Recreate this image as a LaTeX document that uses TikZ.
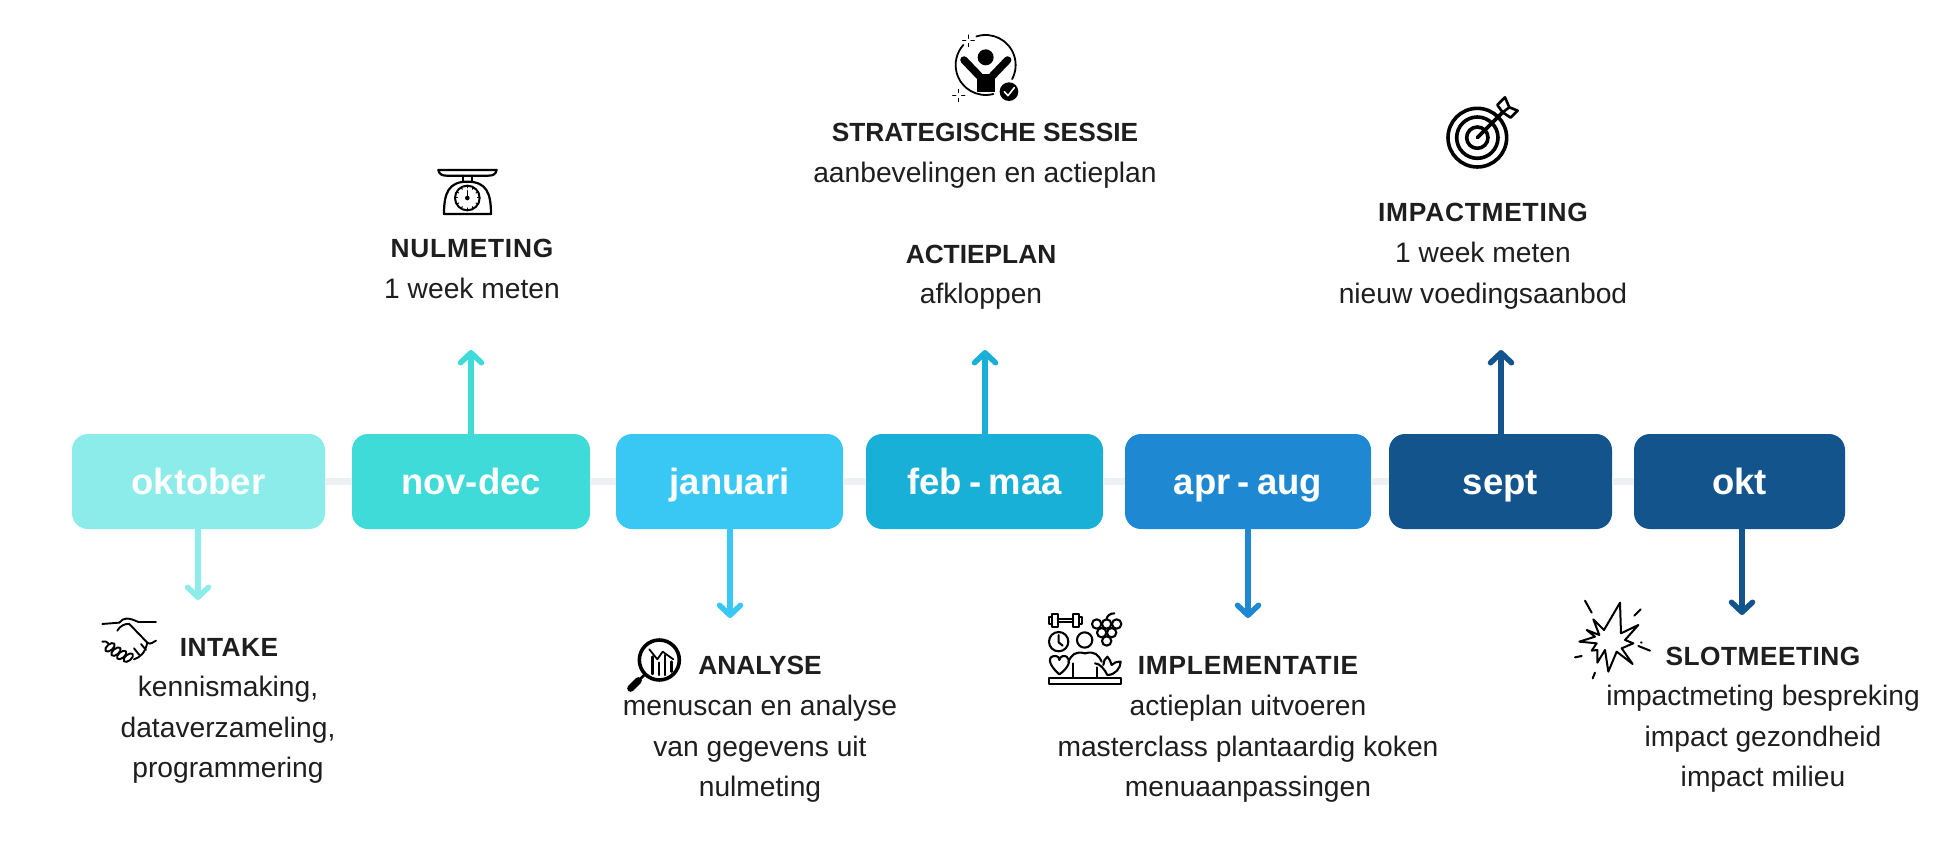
\documentclass[tikz,border=0pt]{standalone}
\usepackage{fontspec}
\setmainfont{Liberation Sans}
\usetikzlibrary{arrows.meta}
\definecolor{c1}{HTML}{8CECE9}
\definecolor{c2}{HTML}{3FDBD8}
\definecolor{c3}{HTML}{38C8F3}
\definecolor{c4}{HTML}{19B0D8}
\definecolor{c5}{HTML}{1E88D2}
\definecolor{c6}{HTML}{14548D}
\definecolor{ink}{HTML}{1E1E1E}
\definecolor{track}{HTML}{EEF1F3}
\newfontfamily\widehead[LetterSpace=3]{Liberation Sans}
\newfontfamily\midhead[LetterSpace=1.8]{Liberation Sans}
\tikzset{
  month/.style={rectangle,rounded corners=16pt,inner sep=0pt,minimum height=95pt,text=white,
    text height=27pt,text depth=2pt,font=\fontsize{36.5}{36.5}\selectfont\bfseries},
  head/.style={anchor=base,inner sep=0pt,text=ink,font=\fontsize{26.3}{26.3}\selectfont\bfseries},
  headw/.style={anchor=base,inner sep=0pt,text=ink,font=\fontsize{26.3}{26.3}\selectfont\widehead\bfseries},
  headm/.style={anchor=base,inner sep=0pt,text=ink,font=\fontsize{26.3}{26.3}\selectfont\midhead\bfseries},
  body/.style={anchor=base,inner sep=0pt,text=ink,font=\fontsize{28.2}{28.2}\selectfont},
  link/.style={track,line width=7pt},
  arr/.style={line width=5.5pt,-{Straight Barb[length=10pt,width=21pt,line cap=round,line join=round]}},
  ico/.style={x=.3333pt,y=-.3333pt,black,line cap=round,line join=round},
}
\begin{document}
\begin{tikzpicture}[x=1pt,y=-1pt]
\useasboundingbox (0,0) rectangle (1947,853);
\fill[white] (0,0) rectangle (1947,853);
% months
\node[month,fill=c1,minimum width=253pt] (b1) at (198.5,481.5) {oktober};
\node[month,fill=c2,minimum width=238pt] (b2) at (471,481.5) {nov-dec};
\node[month,fill=c3,minimum width=227pt] (b3) at (729.5,481.5) {januari};
\node[month,fill=c4,minimum width=237pt] (b4) at (984.5,481.5) {feb\hspace{.2em}-\hspace{.2em}maa};
\node[month,fill=c5,minimum width=246pt] (b5) at (1248,481.5) {apr\hspace{.2em}-\hspace{.2em}aug};
\node[month,fill=c6,minimum width=223pt] (b6) at (1500.5,481.5) {sept};
\node[month,fill=c6,minimum width=211pt] (b7) at (1739.5,481.5) {okt};
\foreach \a/\b in {b1/b2,b2/b3,b3/b4,b4/b5,b5/b6,b6/b7}{\draw[link] (\a.east) -- (\b.west);}
% arrow ends
\coordinate (t1) at (198,600);
\coordinate (t2) at (471,350);
\coordinate (t3) at (730,618);
\coordinate (t4) at (985,350);
\coordinate (t5) at (1248,618);
\coordinate (t6) at (1501,350);
\coordinate (t7) at (1742,615);
\draw[arr,c1] (b1.south -| t1) -- (t1);
\draw[arr,c2] (b2.north -| t2) -- (t2);
\draw[arr,c3] (b3.south -| t3) -- (t3);
\draw[arr,c4] (b4.north -| t4) -- (t4);
\draw[arr,c5] (b5.south -| t5) -- (t5);
\draw[arr,c6] (b6.north -| t6) -- (t6);
\draw[arr,c6] (b7.south -| t7) -- (t7);
% texts
\node[headm] (h1) at (229,656.5) {INTAKE};
\node[body] (l11) at (228,696) {kennismaking,};
\node[body] (l12) at (228,737) {dataverzameling,};
\node[body] (l13) at (228,777) {programmering};
\node[headw] (h2) at (472,257.5) {NULMETING};
\node[body] (l21) at (472,298.5) {1 week meten};
\node[head] (h3) at (760,674) {ANALYSE};
\node[body] (l31) at (760,715) {menuscan en analyse};
\node[body] (l32) at (760,756) {van gegevens uit};
\node[body] (l33) at (760,796) {nulmeting};
\node[head] (h4) at (985,142) {STRATEGISCHE SESSIE};
\node[body] (l41) at (985,183) {aanbevelingen en actieplan};
\node[head] (h5) at (981,263) {ACTIEPLAN};
\node[body] (l51) at (981,303.5) {afkloppen};
\node[headw] (h6) at (1483,222) {IMPACTMETING};
\node[body] (l61) at (1483,262.5) {1 week meten};
\node[body] (l62) at (1483,303.5) {nieuw voedingsaanbod};
\node[headw] (h7) at (1248,674) {IMPLEMENTATIE};
\node[body] (l71) at (1248,715) {actieplan uitvoeren};
\node[body] (l72) at (1248,756) {masterclass plantaardig koken};
\node[body] (l73) at (1248,796) {menuaanpassingen};
\node[headm] (h8) at (1763,665.5) {SLOTMEETING};
\node[body] (l81) at (1763,705.5) {impactmeting bespreking};
\node[body] (l82) at (1763,746.5) {impact gezondheid};
\node[body] (l83) at (1763,786.5) {impact milieu};
% handshake
\begin{scope}[shift={(60,420)},ico,line width=1.9pt]
\draw (127,612) -- (178,608) (235,606) -- (288,606);
\draw (178,608) .. controls (190,592) and (205,592) .. (235,606);
\draw (172,632) .. controls (180,618) and (195,610) .. (208,612) -- (262,668) .. controls (272,676) and (280,665) .. (288,662);
\draw (127,665) .. controls (135,662) and (140,665) .. (145,670);
\foreach \p/\q in {150/682,168/695,185/705,205/713}{\draw[fill=white,rotate around={40:(\p,\q)}] (\p,\q) ellipse (17 and 9);}
\draw (222,718) .. controls (240,712) and (255,700) .. (262,668);
\draw (222,685) -- (238,705) (243,672) -- (258,690);
\end{scope}
% scale
\begin{scope}[shift={(420,150)},ico]
\draw[line width=2.2pt] (55,60) -- (230,60) .. controls (228,72) and (220,77) .. (205,77) -- (80,77) .. controls (65,77) and (57,72) .. (55,60);
\draw[line width=2pt] (130,77) -- (130,95) (155,77) -- (155,95);
\draw[line width=2.2pt] (72,192) .. controls (72,130) and (85,95) .. (142,95) .. controls (200,95) and (213,130) .. (213,192) -- cycle;
\draw[line width=2pt,fill=white] (142,144) circle (37);
\fill (142,144) circle (7);
\draw[line width=1.5pt] (142,144) -- (142,122);
\foreach \a in {0,30,...,330}{\draw[line width=1pt] (142,144) ++(\a:37) -- ++(\a+180:7);}
\end{scope}
% target
\begin{scope}[shift={(1420,80)},ico,line width=3.6pt]
\draw (172,173) circle (88) (172,173) circle (62) (172,173) circle (32);
\draw (172,173) -- (248,97);
\draw[line width=2.6pt] (248,97) -- (232,75) -- (255,52) -- (268,82) -- (293,92) -- (272,113) -- cycle (248,97) -- (268,82);
\end{scope}
% person
\begin{scope}[shift={(780,0)},ico]
\draw[line width=1.8pt] (617,195) ++(-108:90) arc[start angle=-108,end angle=28,radius=90];
\draw[line width=1.8pt] (617,195) ++(75:90) arc[start angle=75,end angle=222,radius=90];
\fill (617,172) circle (24);
\draw[line width=7.5pt] (552,180) -- (598,228) (683,180) -- (637,228);
\fill (590,222) -- (645,222) -- (645,275) -- (590,275) -- cycle;
\fill (687,275) circle (28);
\draw[white,line width=1.6pt] (673,275) -- (684,287) -- (703,263);
\draw[line width=1pt] (565,105) -- (565,115) (565,130) -- (565,140) (548,122) -- (558,122) (573,122) -- (583,122);
\draw[line width=1pt] (537,268) -- (537,278) (537,295) -- (537,305) (518,287) -- (528,287) (545,287) -- (555,287);
\end{scope}
% analysis
\begin{scope}[shift={(610,620)},ico]
\draw[line width=3.6pt] (148,120) circle (60);
\draw[line width=2.6pt] (103,165) -- (90,178);
\draw[line width=7pt] (85,182) -- (62,205);
\draw[line width=2.4pt] (128,110) -- (128,162) (147,128) -- (147,165) (165,105) -- (165,165) (185,125) -- (185,155);
\draw[line width=1.8pt] (118,88) -- (142,118) -- (158,95) -- (190,118);
\end{scope}
% implementation
\begin{scope}[shift={(1020,580)},ico,line width=2.1pt]
\draw (88,112) rectangle (97,132) (97,102) rectangle (113,142) (113,117) -- (160,117) (113,127) -- (160,127) (160,102) rectangle (177,142) (177,112) rectangle (187,132);
\foreach \p/\q in {230/132,260/132,290/132,245/158,275/158,260/183}{\draw (\p,\q) circle (14);}
\draw (260,118) .. controls (260,108) and (270,100) .. (283,100);
\draw (116,185) circle (29);
\draw (116,165) -- (116,187) -- (128,197);
\draw (194,180) circle (23);
\draw (118,283) .. controls (80,250) and (85,228) .. (105,228) .. controls (115,228) and (118,235) .. (118,240) .. controls (120,228) and (132,226) .. (140,230) .. controls (155,240) and (145,265) .. (118,283) -- cycle;
\draw (145,245) .. controls (155,225) and (165,212) .. (195,220) .. controls (225,212) and (235,225) .. (245,245);
\draw (158,250) -- (158,293) (230,262) -- (230,293);
\draw (225,250) .. controls (240,250) and (255,270) .. (262,285) .. controls (285,285) and (302,265) .. (302,245) .. controls (290,245) and (280,248) .. (275,255) .. controls (272,245) and (268,235) .. (262,230) .. controls (255,235) and (250,245) .. (250,255);
\draw (87,295) rectangle (303,313);
\end{scope}
% burst
\begin{scope}[shift={(1540,580)},ico,line width=2pt]
\draw (240,68) -- (243,160) -- (295,135) -- (255,180) -- (280,190) -- (245,205) -- (278,252) -- (230,215) -- (205,275) -- (195,210) -- (172,248) -- (172,210) -- (155,212) -- (170,190) -- (118,185) -- (165,170) -- (140,150) -- (178,165) -- (160,118) -- (192,150) -- cycle;
\draw (135,62) -- (155,98) (302,88) -- (283,107) (295,198) -- (330,212) (303,187) -- (305,188) (105,232) -- (125,228) (165,278) -- (158,295);
\end{scope}
\end{tikzpicture}
\end{document}
